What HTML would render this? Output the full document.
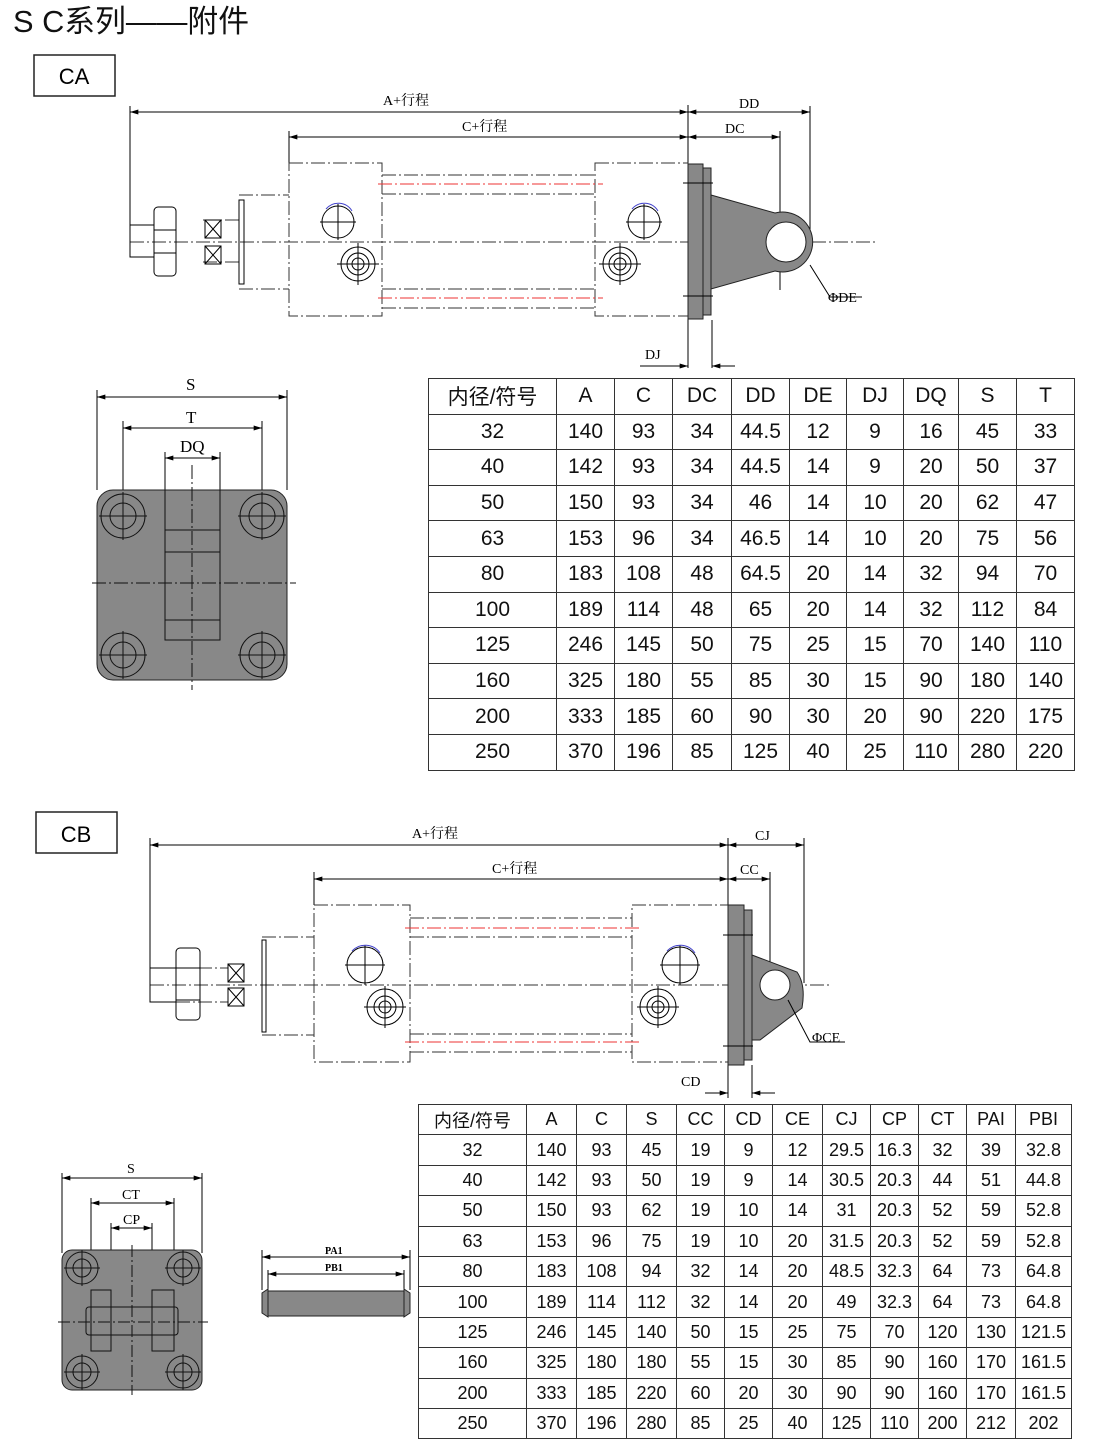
<!DOCTYPE html>
<html><head><meta charset="utf-8"><style>
body{margin:0;background:#fff;width:1101px;height:1453px;position:relative;overflow:hidden;font-family:"Liberation Sans","Noto Sans CJK SC",sans-serif}
svg{position:absolute;left:0;top:0}
table{position:absolute;border-collapse:collapse;table-layout:fixed}
td{border:1.5px solid #333;text-align:center;padding:0;color:#111;white-space:nowrap;overflow:hidden}
#t1{left:428px;top:378px;width:646px;font-size:21px}
#t1 td{height:34.6px}
#t2{left:418px;top:1104px;width:653px;font-size:18px}
#t2 td{height:29.4px}
</style></head><body>
<svg width="1101" height="1453" viewBox="0 0 1101 1453" font-family="Liberation Serif, Noto Serif CJK SC, serif">
<text x="13" y="32" font-family="Liberation Sans, Noto Sans CJK SC, sans-serif" font-size="31" fill="#111" textLength="236" lengthAdjust="spacingAndGlyphs">S C系列——附件</text>
<rect x="34" y="55" width="81" height="41" fill="none" stroke="#222" stroke-width="1.5"/>
<text x="74" y="84" text-anchor="middle" font-family="Liberation Sans, sans-serif" font-size="22">CA</text>
<rect x="36" y="812" width="81" height="41" fill="none" stroke="#222" stroke-width="1.5"/>
<text x="76" y="842" text-anchor="middle" font-family="Liberation Sans, sans-serif" font-size="22">CB</text>
<defs><marker id="a" viewBox="0 0 10 6" refX="10" refY="3" markerWidth="10" markerHeight="5" orient="auto-start-reverse"><path d="M0,0L10,3L0,6z" fill="#000"/></marker></defs>
<g stroke="#000" stroke-width="1" fill="none">
<line x1="130" y1="112" x2="688" y2="112" marker-start="url(#a)" marker-end="url(#a)"/>
<line x1="688" y1="112" x2="810" y2="112" marker-start="url(#a)" marker-end="url(#a)"/>
<line x1="289" y1="137" x2="688" y2="137" marker-start="url(#a)" marker-end="url(#a)"/>
<line x1="688" y1="137" x2="780" y2="137" marker-start="url(#a)" marker-end="url(#a)"/>
<line x1="130" y1="106" x2="130" y2="255"/><line x1="289" y1="131" x2="289" y2="163"/>
<line x1="688" y1="105" x2="688" y2="368"/><line x1="810" y1="106" x2="810" y2="242"/><line x1="780" y1="131" x2="780" y2="290"/>
<line x1="712" y1="320" x2="712" y2="368"/>
<line x1="640" y1="366" x2="688" y2="366" marker-end="url(#a)"/><line x1="735" y1="366" x2="712" y2="366" marker-end="url(#a)"/>
<g stroke-dasharray="14,3,2,3" stroke="#333">
<rect x="289" y="163" width="93" height="153"/><rect x="595" y="163" width="93" height="153"/>
<line x1="382" y1="175" x2="595" y2="175"/><line x1="382" y1="194" x2="595" y2="194"/>
<line x1="382" y1="289" x2="595" y2="289"/><line x1="382" y1="308" x2="595" y2="308"/>
<line x1="239" y1="195" x2="289" y2="195"/><line x1="239" y1="289" x2="289" y2="289"/>
<line x1="130" y1="242" x2="875" y2="242"/>
<line x1="203" y1="220" x2="239" y2="220"/><line x1="203" y1="262" x2="239" y2="262"/>
</g>
<g stroke="#e33" stroke-dasharray="14,3,2,3"><line x1="378" y1="184" x2="603" y2="184"/><line x1="378" y1="298" x2="603" y2="298"/></g>
<path d="M239,200 v84 h5 v-84z"/>
<rect x="130" y="225" width="24" height="32"/><rect x="154" y="207" width="22" height="69" rx="4"/>
<line x1="154" y1="230" x2="176" y2="230"/><line x1="154" y1="253" x2="176" y2="253"/>
<rect x="205" y="220" width="16" height="18"/><rect x="205" y="246" width="16" height="18"/>
<path d="M205,220l16,18M221,220l-16,18M205,246l16,18M221,246l-16,18"/>
<circle cx="338" cy="222" r="16"/><path d="M320,222h36M338,204v36"/>
<path d="M326,209a16,16 0 0 1 26,2" stroke="#44c"/>
<circle cx="358" cy="264" r="17"/><circle cx="358" cy="264" r="11"/><circle cx="358" cy="264" r="6"/><path d="M337,264h42M358,243v42"/>
<circle cx="644" cy="222" r="16"/><path d="M626,222h36M644,204v36"/>
<path d="M632,209a16,16 0 0 1 26,2" stroke="#44c"/>
<circle cx="620" cy="264" r="17"/><circle cx="620" cy="264" r="11"/><circle cx="620" cy="264" r="6"/><path d="M599,264h42M620,243v42"/>
</g>
<g fill="#888" stroke="#222" stroke-width="1">
<rect x="688" y="164" width="15" height="155"/><rect x="703" y="168" width="8" height="147"/>
<path d="M711,195 L775,213 A30,30 0 1 1 775,271 L711,289z"/>
<circle cx="786" cy="242" r="20" fill="#fff"/>
</g>
<g stroke="#000" fill="none"><path d="M683,183h30M683,296h30M810,265l20,32h32"/></g>
<g font-size="14" fill="#000">
<text x="383" y="105">A+行程</text><text x="462" y="131">C+行程</text>
<text x="739" y="108">DD</text><text x="725" y="133">DC</text><text x="645" y="359">DJ</text><text x="828" y="302">ΦDE</text>
</g>
<g stroke="#000" fill="none">
<line x1="97" y1="397" x2="287" y2="397" marker-start="url(#a)" marker-end="url(#a)"/>
<line x1="123" y1="428" x2="262" y2="428" marker-start="url(#a)" marker-end="url(#a)"/>
<line x1="165" y1="458" x2="220" y2="458" marker-start="url(#a)" marker-end="url(#a)"/>
<path d="M97,390v100M287,390v100M123,421v95M262,421v95M165,452v38M220,452v38"/>
</g>
<rect x="97" y="490" width="190" height="190" rx="16" fill="#888" stroke="#222"/>
<g stroke="#111" fill="none">
<rect x="165" y="530" width="55" height="110"/><path d="M165,552h55M165,620h55"/>
<path d="M165,490v40M220,490v40" />
<g><circle cx="123" cy="516" r="22"/><circle cx="123" cy="516" r="13"/><path d="M99,516h48M123,492v48"/></g>
<g><circle cx="262" cy="516" r="22"/><circle cx="262" cy="516" r="13"/><path d="M238,516h48M262,492v48"/></g>
<g><circle cx="123" cy="655" r="22"/><circle cx="123" cy="655" r="13"/><path d="M99,655h48M123,631v48"/></g>
<g><circle cx="262" cy="655" r="22"/><circle cx="262" cy="655" r="13"/><path d="M238,655h48M262,631v48"/></g>
<path d="M92,583h204M192,465v225" stroke-dasharray="14,3,2,3"/>
</g>
<g font-size="17"><text x="186" y="390">S</text><text x="186" y="423">T</text><text x="180" y="452">DQ</text></g>

<g stroke="#000" stroke-width="1" fill="none">
<line x1="150" y1="845" x2="728" y2="845" marker-start="url(#a)" marker-end="url(#a)"/>
<line x1="728" y1="845" x2="804" y2="845" marker-start="url(#a)" marker-end="url(#a)"/>
<line x1="314" y1="879" x2="728" y2="879" marker-start="url(#a)" marker-end="url(#a)"/>
<line x1="728" y1="879" x2="770" y2="879" marker-start="url(#a)" marker-end="url(#a)"/>
<path d="M150,838v150M314,872v33M728,838v260M804,838v145M770,872v120M752,1065v33"/>
<line x1="705" y1="1093" x2="728" y2="1093" marker-end="url(#a)"/><line x1="775" y1="1093" x2="752" y2="1093" marker-end="url(#a)"/>
<g stroke-dasharray="14,3,2,3" stroke="#333">
<rect x="314" y="905" width="96" height="157"/><rect x="632" y="905" width="96" height="157"/>
<path d="M410,918H632M410,937H632M410,1034H632M410,1052H632M262,937H314M262,1035H314M150,985H830M176,968H228M176,1002H228"/>
</g>
<g stroke="#e33" stroke-dasharray="14,3,2,3"><path d="M405,928H640M405,1042H640"/></g>
<path d="M262,940v92h4v-92z"/>
<rect x="150" y="968" width="26" height="34"/><rect x="176" y="948" width="24" height="72" rx="4"/>
<path d="M176,968h24M176,1000h24"/>
<rect x="228" y="964" width="16" height="18"/><rect x="228" y="988" width="16" height="18"/>
<path d="M228,964l16,18M244,964l-16,18M228,988l16,18M244,988l-16,18"/>
<circle cx="365" cy="965" r="18"/><path d="M345,965h40M365,945v40"/><path d="M352,951a18,18 0 0 1 28,2" stroke="#44c"/>
<circle cx="385" cy="1007" r="18"/><circle cx="385" cy="1007" r="11"/><circle cx="385" cy="1007" r="6"/><path d="M364,1007h42M385,986v42"/>
<circle cx="680" cy="965" r="18"/><path d="M660,965h40M680,945v40"/><path d="M667,951a18,18 0 0 1 28,2" stroke="#44c"/>
<circle cx="658" cy="1007" r="18"/><circle cx="658" cy="1007" r="11"/><circle cx="658" cy="1007" r="6"/><path d="M637,1007h42M658,986v42"/>
</g>
<g fill="#888" stroke="#222">
<rect x="728" y="905" width="16" height="160"/><rect x="744" y="910" width="8" height="150"/>
<path d="M752,955 L797,972 Q806,985 802,1008 L760,1040 L752,1040z"/>
<circle cx="775" cy="985" r="15" fill="#fff"/>
</g>
<g stroke="#000" fill="none"><path d="M723,935h30M723,1046h30M788,1000l22,42h35"/></g>
<g font-size="14" fill="#000">
<text x="412" y="838">A+行程</text><text x="492" y="873">C+行程</text>
<text x="755" y="840">CJ</text><text x="740" y="874">CC</text><text x="681" y="1086">CD</text><text x="812" y="1042">ΦCE</text>
</g>
<g stroke="#000" fill="none">
<line x1="62" y1="1178" x2="202" y2="1178" marker-start="url(#a)" marker-end="url(#a)"/>
<line x1="91" y1="1203" x2="174" y2="1203" marker-start="url(#a)" marker-end="url(#a)"/>
<line x1="111" y1="1228" x2="152" y2="1228" marker-start="url(#a)" marker-end="url(#a)"/>
<path d="M62,1173v80M202,1173v80M91,1198v92M174,1198v92M111,1223v67M152,1223v67"/>
<line x1="262" y1="1257" x2="410" y2="1257" marker-start="url(#a)" marker-end="url(#a)"/>
<line x1="268" y1="1274" x2="404" y2="1274" marker-start="url(#a)" marker-end="url(#a)"/>
<path d="M262,1250v40M410,1250v40M268,1270v20M404,1270v20"/>
</g>
<rect x="62" y="1250" width="140" height="140" rx="10" fill="#888" stroke="#222"/>
<g stroke="#111" fill="none">
<rect x="91" y="1290" width="20" height="61"/><rect x="152" y="1290" width="22" height="61"/>
<rect x="86" y="1307" width="92" height="28" rx="3"/>
<g><circle cx="82" cy="1268" r="16"/><circle cx="82" cy="1268" r="9"/><path d="M64,1268h36M82,1250v36"/></g>
<g><circle cx="183" cy="1268" r="16"/><circle cx="183" cy="1268" r="9"/><path d="M165,1268h36M183,1250v36"/></g>
<g><circle cx="82" cy="1372" r="16"/><circle cx="82" cy="1372" r="9"/><path d="M64,1372h36M82,1354v36"/></g>
<g><circle cx="183" cy="1372" r="16"/><circle cx="183" cy="1372" r="9"/><path d="M165,1372h36M183,1354v36"/></g>
<path d="M58,1322h150M132,1245v150" stroke-dasharray="12,3,2,3"/>
</g>
<rect x="268" y="1291" width="136" height="25" fill="#888" stroke="#222"/>
<path d="M268,1289 l-6,4 v20 l6,4z M404,1289 l6,4 v20 l-6,4z" fill="#888" stroke="#222"/>
<g font-size="14"><text x="127" y="1173">S</text><text x="122" y="1199">CT</text><text x="123" y="1224">CP</text></g>
<g font-size="10" font-weight="bold"><text x="325" y="1254">PA1</text><text x="325" y="1271">PB1</text></g>
</svg>
<table id="t1">
<colgroup><col style="width:128px"><col style="width:58px"><col style="width:58px"><col style="width:59px"><col style="width:58px"><col style="width:57px"><col style="width:57px"><col style="width:55px"><col style="width:58px"><col style="width:58px"></colgroup>
<tr><td>内径/符号</td><td>A</td><td>C</td><td>DC</td><td>DD</td><td>DE</td><td>DJ</td><td>DQ</td><td>S</td><td>T</td></tr>
<tr><td>32</td><td>140</td><td>93</td><td>34</td><td>44.5</td><td>12</td><td>9</td><td>16</td><td>45</td><td>33</td></tr>
<tr><td>40</td><td>142</td><td>93</td><td>34</td><td>44.5</td><td>14</td><td>9</td><td>20</td><td>50</td><td>37</td></tr>
<tr><td>50</td><td>150</td><td>93</td><td>34</td><td>46</td><td>14</td><td>10</td><td>20</td><td>62</td><td>47</td></tr>
<tr><td>63</td><td>153</td><td>96</td><td>34</td><td>46.5</td><td>14</td><td>10</td><td>20</td><td>75</td><td>56</td></tr>
<tr><td>80</td><td>183</td><td>108</td><td>48</td><td>64.5</td><td>20</td><td>14</td><td>32</td><td>94</td><td>70</td></tr>
<tr><td>100</td><td>189</td><td>114</td><td>48</td><td>65</td><td>20</td><td>14</td><td>32</td><td>112</td><td>84</td></tr>
<tr><td>125</td><td>246</td><td>145</td><td>50</td><td>75</td><td>25</td><td>15</td><td>70</td><td>140</td><td>110</td></tr>
<tr><td>160</td><td>325</td><td>180</td><td>55</td><td>85</td><td>30</td><td>15</td><td>90</td><td>180</td><td>140</td></tr>
<tr><td>200</td><td>333</td><td>185</td><td>60</td><td>90</td><td>30</td><td>20</td><td>90</td><td>220</td><td>175</td></tr>
<tr><td>250</td><td>370</td><td>196</td><td>85</td><td>125</td><td>40</td><td>25</td><td>110</td><td>280</td><td>220</td></tr>
</table>
<table id="t2">
<colgroup><col style="width:108px"><col style="width:50px"><col style="width:50px"><col style="width:50px"><col style="width:48px"><col style="width:48px"><col style="width:50px"><col style="width:48px"><col style="width:48px"><col style="width:48px"><col style="width:49px"><col style="width:56px"></colgroup>
<tr><td>内径/符号</td><td>A</td><td>C</td><td>S</td><td>CC</td><td>CD</td><td>CE</td><td>CJ</td><td>CP</td><td>CT</td><td>PAI</td><td>PBI</td></tr>
<tr><td>32</td><td>140</td><td>93</td><td>45</td><td>19</td><td>9</td><td>12</td><td>29.5</td><td>16.3</td><td>32</td><td>39</td><td>32.8</td></tr>
<tr><td>40</td><td>142</td><td>93</td><td>50</td><td>19</td><td>9</td><td>14</td><td>30.5</td><td>20.3</td><td>44</td><td>51</td><td>44.8</td></tr>
<tr><td>50</td><td>150</td><td>93</td><td>62</td><td>19</td><td>10</td><td>14</td><td>31</td><td>20.3</td><td>52</td><td>59</td><td>52.8</td></tr>
<tr><td>63</td><td>153</td><td>96</td><td>75</td><td>19</td><td>10</td><td>20</td><td>31.5</td><td>20.3</td><td>52</td><td>59</td><td>52.8</td></tr>
<tr><td>80</td><td>183</td><td>108</td><td>94</td><td>32</td><td>14</td><td>20</td><td>48.5</td><td>32.3</td><td>64</td><td>73</td><td>64.8</td></tr>
<tr><td>100</td><td>189</td><td>114</td><td>112</td><td>32</td><td>14</td><td>20</td><td>49</td><td>32.3</td><td>64</td><td>73</td><td>64.8</td></tr>
<tr><td>125</td><td>246</td><td>145</td><td>140</td><td>50</td><td>15</td><td>25</td><td>75</td><td>70</td><td>120</td><td>130</td><td>121.5</td></tr>
<tr><td>160</td><td>325</td><td>180</td><td>180</td><td>55</td><td>15</td><td>30</td><td>85</td><td>90</td><td>160</td><td>170</td><td>161.5</td></tr>
<tr><td>200</td><td>333</td><td>185</td><td>220</td><td>60</td><td>20</td><td>30</td><td>90</td><td>90</td><td>160</td><td>170</td><td>161.5</td></tr>
<tr><td>250</td><td>370</td><td>196</td><td>280</td><td>85</td><td>25</td><td>40</td><td>125</td><td>110</td><td>200</td><td>212</td><td>202</td></tr>
</table>
</body></html>
